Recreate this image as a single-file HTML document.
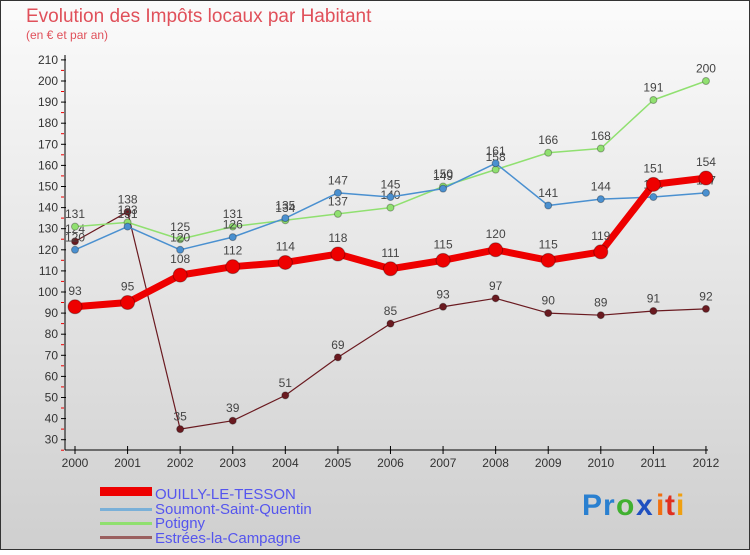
<!DOCTYPE html>
<html><head><meta charset="utf-8"><style>
body{margin:0;width:750px;height:550px;overflow:hidden;font-family:"Liberation Sans",sans-serif}
svg text{font-family:"Liberation Sans",sans-serif}
</style></head><body>
<svg id="c" width="750" height="550">
<defs><linearGradient id="bg" x1="0" y1="0" x2="0" y2="1"><stop offset="0" stop-color="#fbfbfb"/><stop offset="1" stop-color="#cfcfcf"/></linearGradient></defs>
<rect x="0.5" y="0.5" width="749" height="549" fill="url(#bg)" stroke="#333"/>
<text x="26" y="22" font-size="19" fill="#e0505a">Evolution des Impôts locaux par Habitant</text>
<text x="26" y="39" font-size="12" fill="#e0505a">(en € et par an)</text>
<g id="axes"></g><g id="series"></g>
<g>
<rect x="100" y="487" width="52" height="9" fill="#e00"/>
<text x="155" y="499" font-size="15" fill="#5555ee">OUILLY-LE-TESSON</text>
<rect x="100" y="508" width="52" height="3" fill="#7ab0d8"/>
<text x="155" y="514" font-size="15" fill="#5555ee">Soumont-Saint-Quentin</text>
<rect x="100" y="522" width="52" height="3" fill="#90e070"/>
<text x="155" y="528" font-size="15" fill="#5555ee">Potigny</text>
<rect x="100" y="536" width="52" height="3" fill="#9a6060"/>
<text x="155" y="543" font-size="15" fill="#5555ee">Estrées-la-Campagne</text>
</g>
<g font-size="30" font-weight="bold">
<text x="582" y="515" fill="#2a80d0">P</text><text x="603" y="515" fill="#2a80d0">r</text><text x="616" y="515" fill="#40b030">o</text><text x="636" y="515" fill="#2050c0">x</text><text x="656" y="515" fill="#f07010">i</text><text x="665" y="515" fill="#e03020">t</text><text x="676" y="515" fill="#f0a010">i</text>
</g>
</svg>
<script>
const years=[2000,2001,2002,2003,2004,2005,2006,2007,2008,2009,2010,2011,2012];
const yTicks=[30,40,50,60,70,80,90,100,110,120,130,140,150,160,170,180,190,200,210];
const ouilly=[93,95,108,112,114,118,111,115,120,115,119,151,154];
const soumont=[120,131,120,126,135,147,145,149,161,141,144,145,147];
const potigny=[131,133,125,131,134,137,140,150,158,166,168,191,200];
const estrees=[124,138,35,39,51,69,85,93,97,90,89,91,92];
const NS="http://www.w3.org/2000/svg";
const X=i=>75+i*52.58, Y=v=>439.7-(v-30)*2.11;
function mk(t,a,p){const e=document.createElementNS(NS,t);for(const k in a)e.setAttribute(k,a[k]);p.appendChild(e);return e;}
const ax=document.getElementById('axes');
let l=mk('line',{x1:65,y1:55,x2:65,y2:450,stroke:'#000'},ax);

l=mk('line',{x1:65,y1:450,x2:708,y2:450,stroke:'#000'},ax);

yTicks.forEach(v=>{const y=Y(v);
 mk('line',{x1:61,y1:y,x2:66,y2:y,stroke:'#000'},ax);
 mk('line',{x1:61,y1:y+10.5,x2:64,y2:y+10.5,stroke:'#e00'},ax);
 const t=mk('text',{x:58,y:y+4,'font-size':12,fill:'#333','text-anchor':'end'},ax);t.textContent=v;
 });
years.forEach((yr,i)=>{const x=X(i);
 mk('line',{x1:x,y1:446,x2:x,y2:454,stroke:'#000'},ax);
 const t=mk('text',{x:x,y:467,'font-size':12,fill:'#333','text-anchor':'middle'},ax);t.textContent=yr;
 });
const sg=document.getElementById('series');
function series(d,col,w,r,name){const g=mk('g',{},sg);
 
 mk('polyline',{points:d.map((v,i)=>X(i)+','+Y(v)).join(' '),fill:'none',stroke:col,'stroke-width':w,'stroke-linejoin':'round'},g);
 d.forEach((v,i)=>{const c=mk('circle',{cx:X(i),cy:Y(v),r:r,fill:col,stroke:'rgba(0,0,0,0.3)'},g);
  
  const t=mk('text',{x:X(i),y:Y(v)-(r+5),'font-size':12,fill:'#444','text-anchor':'middle'},g);t.textContent=v;});}
series(estrees,'#6a1a20',1.2,3.5,'series-estrees');
series(potigny,'#90e070',1.5,3.5,'series-potigny');
series(soumont,'#4a90d0',1.5,3.5,'series-soumont');
series(ouilly,'#ee0000',7,7,'series-ouilly');
</script>
</body></html>
